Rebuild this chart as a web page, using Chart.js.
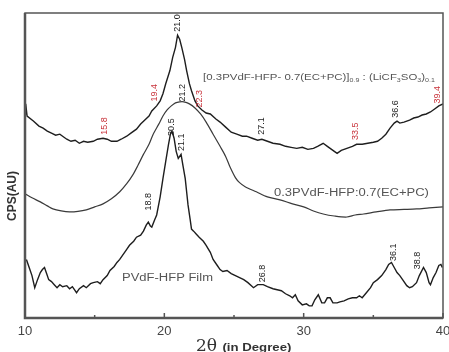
<!DOCTYPE html>
<html>
<head>
<meta charset="utf-8">
<script src="https://cdn.jsdelivr.net/npm/chart.js@4.4.0/dist/chart.umd.min.js"></script>
<style>
  html, body { margin: 0; padding: 0; background: #fff; }
  canvas { display: block; }
</style>
</head>
<body>
<canvas id="chart" width="449" height="352"></canvas>
<script>
// XRD patterns (y in arbitrary counts, curves already offset)
var saltX = [10.0, 10.05, 10.15, 10.6, 11.0, 11.3, 11.6, 11.9, 12.2, 12.5, 12.7, 13.0, 13.3, 13.6, 13.9, 14.2, 14.5, 14.9, 15.2, 15.6, 15.9, 16.2, 16.6, 16.9, 17.3, 17.6, 18.0, 18.3, 18.6, 18.9, 19.1, 19.45, 19.7, 19.9, 20.1, 20.4, 20.6, 20.8, 20.95, 21.1, 21.25, 21.45, 21.6, 21.8, 21.95, 22.2, 22.4, 22.7, 23.0, 23.3, 23.7, 24.0, 24.4, 24.8, 25.2, 25.6, 25.9, 26.3, 26.7, 27.0, 27.4, 27.8, 28.3, 28.7, 29.1, 29.5, 29.9, 30.3, 30.7, 31.0, 31.4, 31.7, 31.9, 32.2, 32.4, 32.7, 33.1, 33.5, 33.8, 34.2, 34.6, 35.0, 35.3, 35.6, 35.9, 36.2, 36.5, 36.7, 36.9, 37.2, 37.6, 37.9, 38.2, 38.5, 38.8, 39.1, 39.4, 39.7, 40.0];
var saltY = [202, 212, 200, 195, 190, 188, 185, 183, 181, 182, 180, 177, 175, 176, 173, 175, 174, 175, 177, 178, 177, 175, 175, 177, 180, 183, 187, 192, 196, 200, 205, 210, 215, 222, 232, 245, 258, 268, 280, 276, 268, 256, 245, 232, 225, 215, 210, 206, 203, 202, 197, 194, 189, 184, 182, 180, 180, 178, 176, 177, 175, 173, 172, 170, 169, 168, 169, 167, 168, 170, 173, 170, 168, 165, 163, 166, 168, 170, 172, 172, 173, 174, 175, 178, 182, 188, 193, 195, 193, 194, 196, 198, 199, 201, 202, 204, 207, 210, 212];

var gelX = [10.0, 10.5, 11.1, 11.6, 12.0, 12.6, 13.2, 13.8, 14.4, 15.0, 15.6, 16.2, 16.8, 17.3, 17.75, 18.1, 18.5, 18.9, 19.2, 19.6, 19.9, 20.2, 20.5, 20.8, 21.1, 21.4, 21.8, 22.2, 22.6, 23.0, 23.5, 24.0, 24.4, 24.7, 25.1, 25.4, 25.8, 26.6, 27.4, 28.3, 29.2, 30.0, 30.7, 31.4, 32.2, 33.1, 33.7, 34.3, 35.2, 36.2, 37.2, 38.1, 39.0, 40.0];
var gelY = [123, 119, 115, 111, 108, 106, 105, 105.5, 107, 110, 113, 118, 125, 133, 142, 151, 162, 172, 182, 192, 200, 206, 210, 213, 214, 214, 212, 208, 202, 194, 182, 170, 160, 150, 139, 134, 130, 125, 120, 117, 113, 110, 106, 103, 101, 100, 102, 103, 105, 107, 107.5, 108, 109, 110];

var filmX = [10.1, 10.3, 10.5, 10.7, 10.9, 11.1, 11.25, 11.4, 11.55, 11.7, 11.9, 12.1, 12.3, 12.5, 12.7, 13.0, 13.2, 13.4, 13.7, 13.9, 14.2, 14.4, 14.7, 14.9, 15.2, 15.4, 15.6, 15.9, 16.1, 16.4, 16.6, 16.8, 17.1, 17.3, 17.5, 17.8, 18.0, 18.3, 18.5, 18.7, 18.85, 19.0, 19.1, 19.3, 19.45, 19.7, 19.9, 20.1, 20.3, 20.45, 20.55, 20.7, 20.85, 21.0, 21.2, 21.35, 21.5, 21.6, 21.7, 21.85, 21.95, 22.1, 22.3, 22.5, 22.8, 23.0, 23.3, 23.5, 23.8, 24.0, 24.2, 24.5, 24.8, 25.1, 25.4, 25.7, 26.0, 26.4, 26.7, 27.1, 27.4, 27.8, 28.1, 28.4, 28.7, 29.0, 29.2, 29.4, 29.6, 29.9, 30.2, 30.4, 30.6, 30.8, 31.05, 31.3, 31.5, 31.7, 31.9, 32.1, 32.4, 32.6, 32.9, 33.2, 33.5, 33.8, 34.0, 34.2, 34.5, 34.8, 35.0, 35.3, 35.6, 35.9, 36.1, 36.3, 36.5, 36.7, 36.9, 37.1, 37.4, 37.6, 37.8, 38.1, 38.3, 38.6, 38.8, 39.0, 39.1, 39.3, 39.5, 39.7, 39.85, 39.95];
var filmY = [58, 50, 42, 30, 38, 45, 48, 50, 44, 38, 36, 33, 30, 33, 31, 32, 29, 31, 25, 29, 32, 30, 34, 35, 36, 34, 38, 42, 47, 51, 55, 58, 64, 68, 72, 76, 80, 82, 86, 92, 95, 91, 90, 97, 102, 120, 138, 155, 172, 183, 185, 178, 165, 158, 162, 150, 138, 125, 112, 98, 88, 86, 83, 80, 76, 72, 65, 58, 52, 48, 46, 47, 44, 42, 40, 38, 35, 30, 33, 33, 31, 29, 28, 27, 24, 22, 20, 23, 17, 13, 14, 12, 12, 18, 23, 15, 15, 20, 20, 15, 15, 16, 17, 19, 20, 20, 22, 20, 25, 30, 35, 38, 42, 48, 53, 55, 50, 45, 42, 38, 32, 30, 31, 35, 42, 50, 45, 35, 33, 40, 45, 52, 53, 50];

// peak labels (text, 2theta, height of the label centre, colour)
var peakText = ['21.0', '21.2', '20.5', '21.1', '18.8', '27.1', '36.6', '26.8', '36.1', '38.8', '15.8', '19.4', '22.3', '33.5', '39.4'];
var peakX    = [20.98, 21.34, 20.55, 21.2, 18.83, 27.0, 36.56, 27.08, 36.42, 38.14, 15.74, 19.26, 22.56, 33.69, 39.58];
var peakY    = [292, 223, 189, 174, 115, 190, 207, 44, 65, 57, 190, 223, 217, 185, 221];
var peakRed  = [false, false, false, false, false, false, false, false, false, false, true, true, true, true, true];

var xTicks = [10, 20, 30, 40];
var xMinor = [15, 25, 35];

function pts(xs, ys) {
  return xs.map(function(x, i) { return {x: x, y: ys[i]}; });
}

// draws text squeezed the way the scanned figure looks (wide letters)
function wideText(ctx, parts, x, y, size, stretch) {
  ctx.save();
  ctx.translate(x, y);
  ctx.scale(stretch, 1);
  var cx = 0;
  parts.forEach(function(p) {
    var s = p.sub ? size * 0.62 : size;
    ctx.font = s + 'px Arial, "Liberation Sans", sans-serif';
    ctx.fillText(p.t, cx, p.sub ? size * 0.3 : 0);
    cx += ctx.measureText(p.t).width;
  });
  ctx.restore();
}

var decor = {
  id: 'decor',
  afterDatasetsDraw: function(chart) {
    var ctx = chart.ctx, a = chart.chartArea;
    var xs = chart.scales.x, ys = chart.scales.y;
    ctx.save();

    // frame
    ctx.strokeStyle = '#555';
    ctx.lineWidth = 1.5;
    ctx.strokeRect(a.left, a.top, a.right - a.left, a.bottom - a.top);
    ctx.lineWidth = 2.5;
    ctx.beginPath();
    ctx.moveTo(a.left, a.top); ctx.lineTo(a.left, a.bottom); ctx.lineTo(a.right, a.bottom);
    ctx.stroke();

    // inward ticks
    ctx.lineWidth = 1.5;
    xTicks.concat(xMinor).forEach(function(v, i) {
      var px = xs.getPixelForValue(v);
      ctx.beginPath();
      ctx.moveTo(px, a.bottom);
      ctx.lineTo(px, a.bottom - (i < xTicks.length ? 5 : 3));
      ctx.stroke();
    });

    // peak labels
    ctx.font = '9px Arial, "Liberation Sans", sans-serif';
    ctx.textAlign = 'center';
    ctx.textBaseline = 'middle';
    peakText.forEach(function(t, i) {
      ctx.save();
      ctx.translate(xs.getPixelForValue(peakX[i]), ys.getPixelForValue(peakY[i]));
      ctx.rotate(-Math.PI / 2);
      ctx.fillStyle = peakRed[i] ? '#c8323a' : '#222';
      ctx.fillText(t, 0, 0);
      ctx.restore();
    });

    // curve names
    ctx.textAlign = 'left';
    ctx.fillStyle = '#555';
    wideText(ctx, [{t: '[0.3PVdF-HFP- 0.7(EC+PC)]'}, {t: '0.9', sub: true}, {t: ' : (LiCF'}, {t: '3', sub: true},
      {t: 'SO'}, {t: '3', sub: true}, {t: ')'}, {t: '0.1', sub: true}],
      xs.getPixelForValue(22.78), ys.getPixelForValue(238), 8.8, 1.3);
    wideText(ctx, [{t: '0.3PVdF-HFP:0.7(EC+PC)'}], xs.getPixelForValue(27.87), ys.getPixelForValue(124), 10, 1.3);
    wideText(ctx, [{t: 'PVdF-HFP Film'}], xs.getPixelForValue(16.96), ys.getPixelForValue(39), 10, 1.3);

    // axis titles
    ctx.fillStyle = '#333';
    ctx.font = '17px "DejaVu Serif", "Liberation Serif", serif';
    ctx.textBaseline = 'alphabetic';
    var tx = 196, ty = 351;
    ctx.fillText('2\u03B8', tx, ty);
    var w = ctx.measureText('2\u03B8 ').width;
    ctx.save();
    ctx.translate(tx + w, ty);
    ctx.scale(1.2, 1);
    ctx.font = 'bold 11px Arial, "Liberation Sans", sans-serif';
    ctx.fillText('(in Degree)', 0, 0);
    ctx.restore();

    ctx.save();
    ctx.translate(13, 196);
    ctx.rotate(-Math.PI / 2);
    ctx.textAlign = 'center';
    ctx.textBaseline = 'middle';
    ctx.font = 'bold 12px Arial, "Liberation Sans", sans-serif';
    ctx.fillText('CPS(AU)', 0, 0);
    ctx.restore();

    ctx.restore();
  }
};

var config = {
  type: 'line',
  data: {
    datasets: [{
      data: pts(saltX, saltY),
      borderColor: '#1e1e1e',
      borderWidth: 1.4
    }, {
      data: pts(gelX, gelY),
      borderColor: '#3a3a3a',
      borderWidth: 1.2,
      tension: 0.3
    }, {
      data: pts(filmX, filmY),
      borderColor: '#1e1e1e',
      borderWidth: 1.4
    }]
  },
  options: {
    responsive: false,
    animation: false,
    layout: { padding: { left: 25, top: 13, right: 6, bottom: 6.4 } },
    elements: { point: { radius: 0 }, line: { tension: 0 } },
    scales: {
      x: {
        type: 'linear',
        min: 10,
        max: 40,
        afterBuildTicks: function(s) { s.ticks = xTicks.map(function(v) { return {value: v}; }); },
        // let the layout padding alone decide the side margins
        afterFit: function(s) { s.paddingLeft = 0; s.paddingRight = 0; },
        ticks: { color: '#444', font: { size: 13, family: 'Arial, "Liberation Sans", sans-serif' }, padding: 6 },
        grid: { display: false, drawTicks: false },
        border: { display: false }
      },
      y: { type: 'linear', min: 0, max: 302, display: false }
    },
    plugins: { legend: { display: false }, tooltip: { enabled: false } }
  },
  plugins: [decor]
};

window.onload = function() {
  var ctx = document.getElementById('chart').getContext('2d');
  window.xrdChart = new Chart(ctx, config);
};
</script>
</body>
</html>
